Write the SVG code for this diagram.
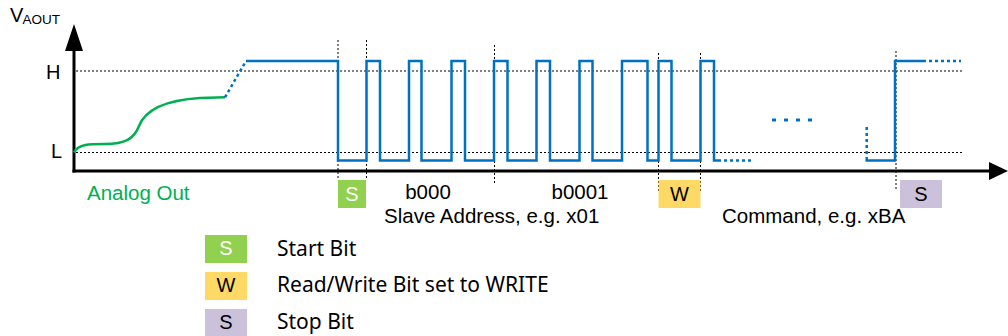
<svg xmlns="http://www.w3.org/2000/svg" width="1008" height="336" viewBox="0 0 1008 336">
<style>
.t{font-family:"Liberation Sans",Arial,sans-serif;fill:#000}
.lg{font-family:"Noto Sans","Open Sans",sans-serif;font-size:21px;fill:#000}
.dot{stroke:#000;stroke-width:1;stroke-dasharray:2,2;fill:none}
.sig{stroke:#0070C0;stroke-width:2.5;fill:none}
.sigd{stroke:#0070C0;stroke-width:2.5;fill:none;stroke-dasharray:3,3}
.ax{stroke:#000;stroke-width:3;fill:none}
</style>
<rect width="1008" height="336" fill="#fff"/>
<g id="axes">
<line class="ax" x1="74" y1="48" x2="74" y2="172.5"/>
<polygon points="74,24 65,51 83,51" fill="#000"/>
<line class="ax" x1="72.5" y1="171" x2="991" y2="171"/>
<polygon points="1008,171 989,162 989,180" fill="#000"/>
<text class="t" x="10" y="22" font-size="20">V</text>
<text class="t" x="22.5" y="24" font-size="13.5">AOUT</text>
<text class="t" x="46" y="79" font-size="20">H</text>
<text class="t" x="51" y="157.5" font-size="20">L</text>
</g>
<g id="gridlines">
<line class="dot" x1="76" y1="71" x2="962" y2="71"/>
<line class="dot" x1="76" y1="152.5" x2="962" y2="152.5"/>
<line class="dot" x1="338" y1="40" x2="338" y2="180"/>
<line class="dot" x1="366.5" y1="40" x2="366.5" y2="180"/>
<line class="dot" x1="494.5" y1="45" x2="494.5" y2="183"/>
<line class="dot" x1="658.5" y1="53" x2="658.5" y2="191"/>
<line class="dot" x1="700.5" y1="53" x2="700.5" y2="191"/>
<line class="dot" x1="896" y1="51" x2="896" y2="190"/>
</g>
<g id="analog">
<path d="M74,152.5 C78,144 90,144 105,144 C125,144 134,139 139,126 C146,108 168,100 200,98 L225,97.3" fill="none" stroke="#00B050" stroke-width="2.5"/>
<text x="87" y="199.5" font-family="Liberation Sans,Arial,sans-serif" font-size="20.5" fill="#00B050">Analog Out</text>
</g>
<g id="connectors">
<path class="sigd" d="M225,97.3 L246,61"/>
<path class="sig" d="M246,61 H338 V160.5 H366.5 V61 H380 V160.5 H409 V61 H421.5 V160.5 H451.5 V61 H465 V160.5 H494 V61 H507.5 V160.5 H536.5 V61 H550 V160.5 H579.5 V61 H592.5 V160.5 H622 V61 H647.5 V160.5 H658.5 V61 H671.5 V160.5 H700.5 V61 H714 V160.5 H718"/>
<path class="sigd" d="M718,160.5 H754"/>
<path d="M772,120 H813" stroke="#0070C0" stroke-width="3" stroke-dasharray="4,8" fill="none"/>
<path class="sigd" d="M866.7,127 V159"/>
<path class="sig" d="M866.7,159 V160.5 H895 V61 H923"/>
<path class="sigd" d="M923,61 H961"/>
</g>
<g id="bit-start">
<rect x="338" y="180" width="28" height="28" fill="#92D050"/>
<text class="t" x="352" y="201" font-size="20" text-anchor="middle" style="fill:#fff">S</text>
</g>
<g id="bit-write">
<rect x="658.5" y="180" width="42" height="28" fill="#FFD966"/>
<text class="t" x="679.5" y="201" font-size="20" text-anchor="middle">W</text>
</g>
<g id="bit-stop">
<rect x="900" y="180" width="42" height="28" fill="#CCC1DA"/>
<text class="t" x="921" y="201" font-size="20" text-anchor="middle">S</text>
</g>
<g id="labels">
<text class="t" x="428" y="199.3" font-size="20.5" text-anchor="middle">b000</text>
<text class="t" x="580" y="199.3" font-size="20.5" text-anchor="middle">b0001</text>
<text class="t" x="384" y="223" font-size="20.5">Slave Address, e.g. x01</text>
<text class="t" x="722" y="223.3" font-size="20.5">Command, e.g. xBA</text>
</g>
<g id="legend-start">
<rect x="205" y="235" width="42" height="28" fill="#92D050"/>
<text class="t" x="226" y="254.5" font-size="20" text-anchor="middle" style="fill:#fff">S</text>
<text class="lg" x="277" y="255.5">Start Bit</text>
</g>
<g id="legend-write">
<rect x="205" y="272" width="42" height="28" fill="#FFD966"/>
<text class="t" x="226" y="291.5" font-size="20" text-anchor="middle">W</text>
<text class="lg" x="277" y="292">Read/Write Bit set to WRITE</text>
</g>
<g id="legend-stop">
<rect x="205" y="309" width="42" height="27" fill="#CCC1DA"/>
<text class="t" x="226" y="328.5" font-size="20" text-anchor="middle">S</text>
<text class="lg" x="277" y="328.5">Stop Bit</text>
</g>
</svg>
